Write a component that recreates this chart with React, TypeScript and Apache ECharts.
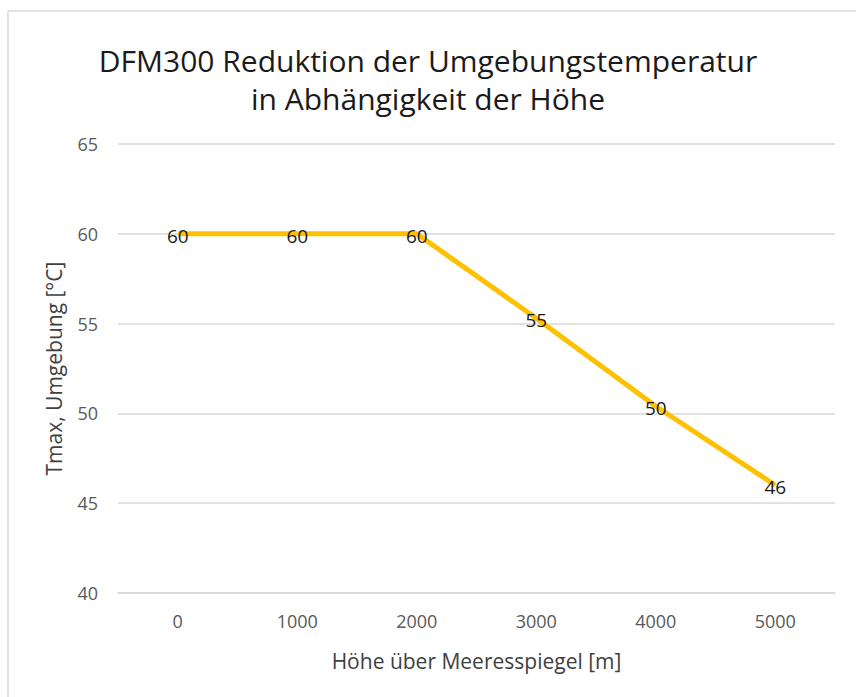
import React, { useEffect, useRef } from "react";
import * as echarts from "echarts";

const categories = ["0", "1000", "2000", "3000", "4000", "5000"];
const values = [60, 60, 60, 55.3, 50.4, 46];
const titleLines = ["DFM300 Reduktion der Umgebungstemperatur", "in Abhängigkeit der Höhe"];
const xName = "Höhe über Meeresspiegel [m]";
const yName = "Tmax, Umgebung [°C]";

const FONT = "'Open Sans', 'Noto Sans', sans-serif";

export default function App() {
  const ref = useRef<HTMLDivElement>(null);
  useEffect(() => {
    document.body.style.margin = "0";
    const chart = echarts.init(ref.current!, null, { renderer: "svg" });
    chart.setOption({
      animation: false,
      backgroundColor: "#ffffff",
      title: {
        text: titleLines.join("\n"),
        left: "center",
        top: 36,
        textStyle: {
          fontFamily: FONT,
          fontSize: 30,
          fontWeight: "normal",
          color: "#1a1a1a",
          lineHeight: 38,
        },
      },
      graphic: [
        { type: "line", shape: { x1: 8, y1: 11, x2: 856, y2: 11 }, style: { stroke: "#d9d9d9", lineWidth: 1.5 } },
        { type: "line", shape: { x1: 8, y1: 11, x2: 8, y2: 697 }, style: { stroke: "#d9d9d9", lineWidth: 1.5 } },
      ],
      grid: { left: 118, right: 21, top: 144, bottom: 104 },
      xAxis: {
        type: "category",
        data: categories,
        boundaryGap: true,
        axisLine: { show: true, lineStyle: { color: "#d9d9d9", width: 1.5 } },
        axisTick: { show: false },
        axisLabel: { color: "#595959", fontSize: 18, fontFamily: FONT, margin: 19 },
        name: xName,
        nameLocation: "middle",
        nameGap: 57,
        nameTextStyle: { color: "#404040", fontSize: 21, fontFamily: FONT },
      },
      yAxis: {
        type: "value",
        min: 40,
        max: 65,
        interval: 5,
        axisLine: { show: false },
        axisTick: { show: false },
        splitLine: { lineStyle: { color: "#d9d9d9", width: 1.5 } },
        axisLabel: { color: "#595959", fontSize: 18, fontFamily: FONT, margin: 20 },
        name: yName,
        nameLocation: "middle",
        nameGap: 54,
        nameTextStyle: { color: "#404040", fontSize: 21, fontFamily: FONT },
      },
      series: [
        {
          type: "line",
          data: values,
          symbol: "circle",
          symbolSize: 0,
          lineStyle: { color: "#FFC000", width: 5 },
          itemStyle: { color: "#FFC000" },
          label: {
            show: true,
            position: "inside",
            offset: [0, 2],
            color: "#1a1a1a",
            fontSize: 19,
            fontFamily: FONT,
            formatter: (p: any) => String(Math.round(p.value)),
          },
        },
      ],
    });
    return () => chart.dispose();
  }, []);
  return <div ref={ref} style={{ width: 856, height: 697 }} />;
}
